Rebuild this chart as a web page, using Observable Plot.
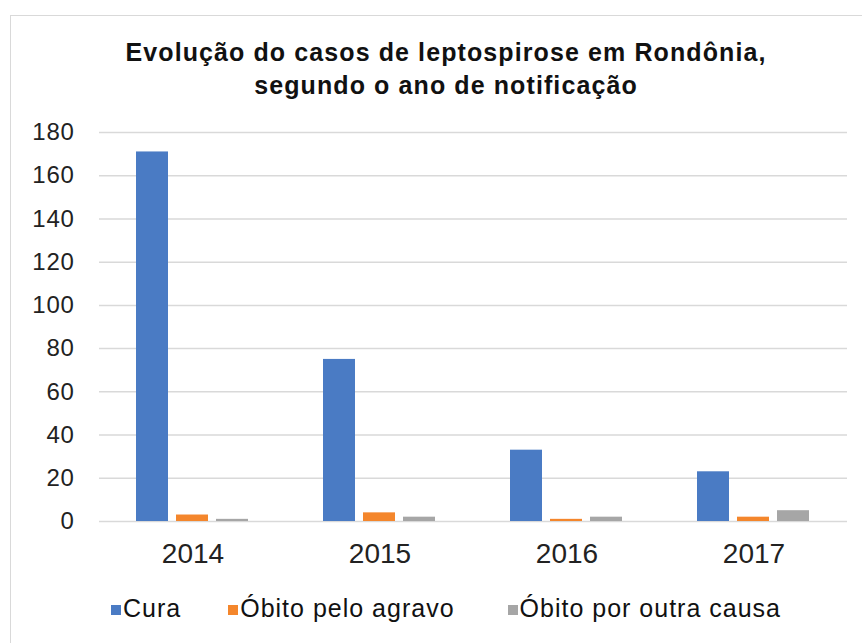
<!DOCTYPE html>
<html>
<head>
<meta charset="utf-8">
<script src="https://cdn.jsdelivr.net/npm/d3@7"></script>
<script src="https://cdn.jsdelivr.net/npm/@observablehq/plot@0.6"></script>
<style>
  body { margin: 0; background: #fff; font-family: "Liberation Sans", Arial, sans-serif; }
  #wrap { position: relative; width: 862px; height: 643px; overflow: hidden; background: #fff; }
  #frame { position: absolute; left: 10px; top: 15px; width: 900px; height: 700px; border: 1.5px solid #d9d9d9; box-sizing: border-box; }
  #title { position: absolute; top: 36px; left: 24px; width: 844px; text-align: center; font-weight: bold; font-size: 25px; letter-spacing: 1.1px; line-height: 33px; color: #111; white-space: nowrap; }
  #chart { position: absolute; left: 0; top: 0; }
  #chart g[aria-label="y-axis tick label"] text { letter-spacing: 0.7px; }
  #legend { position: absolute; left: 111px; top: 592px; display: flex; font-size: 25px; letter-spacing: 1px; color: #111; line-height: 32px; white-space: nowrap; }
  .item { display: flex; align-items: center; }
  .sw { width: 10px; height: 10px; margin-right: 2px; margin-top: 3px; flex: none; }
</style>
</head>
<body>
<div id="wrap">
  <div id="frame"></div>
  <div id="title">Evolução do casos de leptospirose em Rondônia,<br>segundo o ano de notificação</div>
  <div id="chart"></div>
  <div id="legend"></div>
</div>
<script>
const years = ["2014", "2015", "2016", "2017"];
const series = ["Cura", "Óbito pelo agravo", "Óbito por outra causa"];
const cura = [171, 75, 33, 23];
const agravo = [3, 4, 1, 2];
const outra = [1, 2, 2, 5];
const yTicks = [0, 20, 40, 60, 80, 100, 120, 140, 160, 180];
const colors = ["#4a7bc4", "#f4862c", "#a6a6a6"];

const values = [cura, agravo, outra];
const data = [];
years.forEach((yr, i) => {
  series.forEach((s, j) => data.push({year: yr, serie: s, value: values[j][i]}));
});

const chart = Plot.plot({
  width: 862,
  height: 580,
  marginTop: 132,
  marginBottom: 59,
  marginLeft: 97,
  marginRight: 14,
  style: {fontFamily: "'Liberation Sans', Arial, sans-serif", color: "#222", background: "transparent"},
  fx: {domain: years, padding: 0, label: null},
  x: {domain: series, axis: null, paddingInner: 0.195, paddingOuter: 0.887},
  y: {domain: [0, 180], label: null},
  color: {domain: series, range: colors},
  marks: [
    Plot.gridY(yTicks, {stroke: "#d9d9d9", strokeOpacity: 1, strokeWidth: 1.5}),
    Plot.axisY(yTicks, {tickSize: 0, tickPadding: 25, fontSize: 24, label: null, fill: "#222"}),
    Plot.axisFx({anchor: "bottom", tickSize: 0, tickPadding: 22, fontSize: 28, label: null, fill: "#222"}),
    Plot.barY(data, {fx: "year", x: "serie", y: "value", fill: "serie"})
  ]
});
document.getElementById("chart").appendChild(chart);

const legend = document.getElementById("legend");
const gaps = [47, 53, 0];
series.forEach((s, j) => {
  const it = document.createElement("div");
  it.className = "item";
  it.style.marginRight = gaps[j] + "px";
  const sw = document.createElement("span");
  sw.className = "sw";
  sw.style.background = colors[j];
  const t = document.createElement("span");
  t.textContent = s;
  it.appendChild(sw);
  it.appendChild(t);
  legend.appendChild(it);
});
</script>
</body>
</html>
